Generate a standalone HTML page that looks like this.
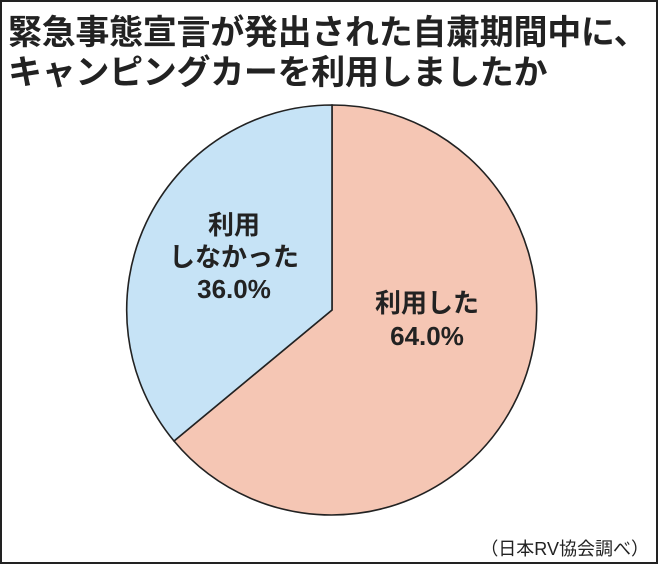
<!DOCTYPE html>
<html><head><meta charset="utf-8"><style>
html,body{margin:0;padding:0;background:#fff;}
.wrap{position:relative;width:658px;height:564px;box-sizing:border-box;border:2px solid #222;overflow:hidden;font-family:"Liberation Sans","Noto Sans CJK JP",sans-serif;}
.t{position:absolute;left:6px;font-weight:bold;font-size:34px;color:#222;white-space:nowrap;letter-spacing:-0.3px;}
svg{position:absolute;left:0;top:0;}
</style></head><body><div class="wrap">
<div class="t" style="top:3px;">緊急事態宣言が発出された自粛期間中に、</div>
<div class="t" style="top:43px;">キャンピングカーを利用しましたか</div>
<svg width="658" height="564" viewBox="0 0 658 564">
<path d="M330,308 L330,103 A205,205 0 1,1 172,439 Z" fill="#f5c6b4" stroke="#222" stroke-width="1.6"/>
<path d="M330,308 L172,439 A205,205 0 0,1 330,103 Z" fill="#c6e3f6" stroke="#222" stroke-width="1.6"/>
<g font-family="Liberation Sans, Noto Sans CJK JP, sans-serif" font-weight="bold" font-size="26" fill="#222" text-anchor="middle">
<text x="425" y="310">利用した</text>
<text x="425" y="343">64.0%</text>
<text x="232" y="232">利用</text>
<text x="232" y="264">しなかった</text>
<text x="232" y="296">36.0%</text>
</g>
<text x="647" y="553" text-anchor="end" font-family="Liberation Sans, Noto Sans CJK JP, sans-serif" font-size="18" fill="#222">（日本RV協会調べ）</text>
</svg>
</div></body></html>
